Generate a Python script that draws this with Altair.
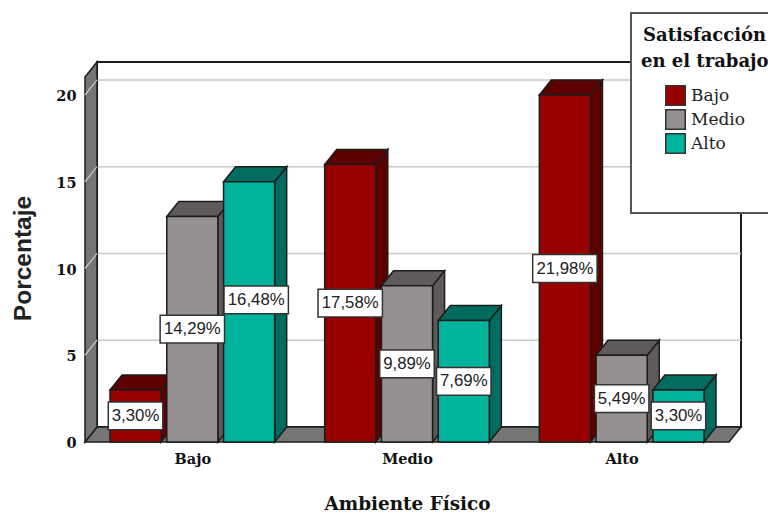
import altair as alt
import pandas as pd

# Survey counts per physical-environment level and satisfaction level
ambientes = ["Bajo", "Medio", "Alto"]
satisfaccion = ["Bajo", "Medio", "Alto"]
conteos_bajo = [3, 16, 20]
conteos_medio = [13, 9, 5]
conteos_alto = [15, 7, 3]
tick_valores = [0, 5, 10, 15, 20]

# Styling and projection parameters
FRONT = {"Bajo": "#990000", "Medio": "#959190", "Alto": "#00b39c"}
DARK = {"Bajo": "#5c0000", "Medio": "#5e5b5a", "Alto": "#006b5e"}
WALL = "#757575"
EDGE = "#1c1c1c"
BAR_W = 0.238
BAR_STEP = 0.2645
DX = 0.056       # oblique depth along the x scale
DY = 0.865       # oblique depth along the y scale
TOP = 21.04      # height of the front edge of the walls
SERIF = "DejaVu Serif"
SANS = "Liberation Sans"
# The tall teal label is moved aside so it clears its neighbour
LABEL_SHIFT = {"Bajo-Alto": (0.033, 0.69)}

series = {"Bajo": conteos_bajo, "Medio": conteos_medio, "Alto": conteos_alto}
total = sum(sum(v) for v in series.values())

bars = []
for i, amb in enumerate(ambientes):
    for j, sat in enumerate(satisfaccion):
        c = series[sat][i]
        bar_id = f"{amb}-{sat}"
        centre = i + 0.5 + (j - 1) * BAR_STEP
        pct = f"{c / total * 100:.2f}%".replace(".", ",")
        half = 0.15 if len(pct) > 5 else 0.127
        sx, sy = LABEL_SHIFT.get(bar_id, (0, 0))
        lx, ly = centre + sx, c / 2 + sy
        bars.append({
            "id": bar_id, "sat": sat, "count": c, "label": pct,
            "x0": centre - BAR_W / 2, "x1": centre + BAR_W / 2,
            "lx": lx, "ly": ly,
            "box0": lx - half, "box1": lx + half,
            "boxy0": ly - 0.8, "boxy1": ly + 0.8,
            "dark": DARK[sat],
        })
bars_df = pd.DataFrame(bars)

side_rows, top_rows = [], []
for b in bars:
    side_rows += [
        {"id": b["id"], "x": b["x1"], "y": 0, "y2": b["count"], "fill": b["dark"]},
        {"id": b["id"], "x": b["x1"] + DX, "y": DY, "y2": b["count"] + DY, "fill": b["dark"]},
    ]
    top_rows += [
        {"id": b["id"], "y": b["count"], "x": b["x0"], "x2": b["x1"], "fill": b["dark"]},
        {"id": b["id"], "y": b["count"] + DY, "x": b["x0"] + DX, "x2": b["x1"] + DX, "fill": b["dark"]},
    ]
side_df = pd.DataFrame(side_rows)
top_df = pd.DataFrame(top_rows)

x_scale = alt.Scale(domain=[0, 3], nice=False, zero=False)
y_scale = alt.Scale(domain=[0, 20], nice=False, zero=False)
X = alt.X("x:Q", scale=x_scale, axis=None)
Y = alt.Y("y:Q", scale=y_scale, axis=None)

# Back wall, floor and left wall
back = alt.Chart(pd.DataFrame([{"x": DX, "x2": 3 + DX, "y": DY, "y2": TOP + DY}])).mark_rect(
    fill="white", stroke=EDGE, strokeWidth=2
).encode(X, x2="x2:Q", y=Y, y2="y2:Q")

grid = alt.Chart(pd.DataFrame({"y": [v + DY for v in tick_valores[1:]], "x": [DX] * 4, "x2": [3 + DX] * 4})).mark_rule(
    color="#c9c9c9", strokeWidth=1.5
).encode(X, x2="x2:Q", y=Y)

floor = alt.Chart(pd.DataFrame([
    {"y": 0, "x": 0, "x2": 3},
    {"y": DY, "x": DX, "x2": 3 + DX},
])).mark_area(orient="horizontal", fill=WALL, stroke=EDGE, strokeWidth=1.5).encode(X, x2="x2:Q", y=Y)

left = alt.Chart(pd.DataFrame([
    {"x": 0, "y": 0, "y2": TOP},
    {"x": DX, "y": DY, "y2": TOP + DY},
])).mark_area(fill=WALL, stroke=EDGE, strokeWidth=1.5).encode(X, y=Y, y2="y2:Q")

ticks_df = pd.DataFrame(
    [{"v": v, "x": 0, "y": v} for v in tick_valores[1:]] + [{"v": v, "x": DX, "y": v + DY} for v in tick_valores[1:]]
)
left_grid = alt.Chart(ticks_df).mark_line(color="#c9c9c9", strokeWidth=1.2).encode(X, y=Y, detail="v:N")

# Axis labels and titles; the walls stand in for domain lines and gridlines
axes = alt.Chart(pd.DataFrame({"x": [0.5, 1.5, 2.5], "y": [0, 0, 0]})).mark_point(opacity=0).encode(
    x=alt.X("x:Q", scale=x_scale, title="Ambiente Físico", axis=alt.Axis(
        values=[0.5, 1.5, 2.5],
        labelExpr="['Bajo', 'Medio', 'Alto'][floor(datum.value)]",
        grid=False, domain=False, ticks=False,
        labelFont=SERIF, labelFontWeight="bold", labelFontSize=14.5, labelColor="#111", labelPadding=10,
        titleFont=SERIF, titleFontWeight="bold", titleFontSize=18.4, titleColor="#111", titleY=52,
    )),
    y=alt.Y("y:Q", scale=y_scale, title="Porcentaje", axis=alt.Axis(
        values=tick_valores,
        grid=False, domain=False, ticks=False,
        labelFont=SERIF, labelFontWeight="bold", labelFontSize=14.5, labelColor="#111", labelPadding=9,
        labelOffset=1.5,
        titleFont=SANS, titleFontWeight="bold", titleFontSize=24.5, titleColor="#222",
        titleX=-50, titleY=163,
    )),
)

# Bar faces
sides = alt.Chart(side_df).mark_area(stroke=EDGE, strokeWidth=1.5).encode(
    X, y=Y, y2="y2:Q", detail="id:N", fill=alt.Fill("fill:N", scale=None)
)
tops = alt.Chart(top_df).mark_area(orient="horizontal", stroke=EDGE, strokeWidth=1.5).encode(
    X, x2="x2:Q", y=Y, detail="id:N", fill=alt.Fill("fill:N", scale=None)
)
fronts = alt.Chart(bars_df).mark_rect(stroke=EDGE, strokeWidth=1.5).encode(
    x=alt.X("x0:Q", scale=x_scale, axis=None),
    x2="x1:Q",
    y=alt.Y("count:Q", scale=y_scale, axis=None),
    y2=alt.datum(0),
    color=alt.Color("sat:N", scale=alt.Scale(domain=satisfaccion, range=[FRONT[s] for s in satisfaccion]),
                    legend=alt.Legend(
                        orient="none", legendX=580, legendY=-10, title=None,
                        symbolType="square", symbolSize=380, symbolStrokeWidth=1.5, symbolStrokeColor="#333",
                        rowPadding=-3, padding=0,
                        labelFont=SERIF, labelFontSize=17, labelColor="#222", labelOffset=5,
                    )),
)

# Percentage labels
boxes = alt.Chart(bars_df).mark_rect(fill="white", stroke="#333", strokeWidth=1.5).encode(
    x=alt.X("box0:Q", scale=x_scale, axis=None), x2="box1:Q",
    y=alt.Y("boxy0:Q", scale=y_scale, axis=None), y2="boxy1:Q",
)
texts = alt.Chart(bars_df).mark_text(font=SANS, fontSize=16.8, color="#222").encode(
    x=alt.X("lx:Q", scale=x_scale, axis=None),
    y=alt.Y("ly:Q", scale=y_scale, axis=None),
    text="label:N",
)

# Legend panel and its two-line heading
panel = alt.Chart(pd.DataFrame({"k": [0]})).mark_rect(fill="white", stroke="#555", strokeWidth=2).encode(
    x=alt.value(546), x2=alt.value(700), y=alt.value(-82), y2=alt.value(118)
)
head = alt.Chart(pd.DataFrame({"t": ["Satisfacción", "en el trabajo"], "px": [558, 556], "py": [-59, -33]})).mark_text(
    font=SERIF, fontWeight="bold", fontSize=18, align="left", color="#111"
).encode(x=alt.X("px:Q", scale=None, axis=None), y=alt.Y("py:Q", scale=None, axis=None), text="t:N")

chart = alt.layer(
    back, grid, floor, left, left_grid, axes, sides, tops, fronts, boxes, texts, panel, head
).resolve_scale(color="independent").resolve_axis(x="independent", y="independent").properties(
    width=644, height=347,
    padding={"left": 85, "right": 39, "top": 95, "bottom": 71},
    autosize=alt.AutoSizeParams(type="none"),
    background="white",
).configure_view(stroke=None)

chart.save("out.html", embed_options={"renderer": "svg", "actions": False})
